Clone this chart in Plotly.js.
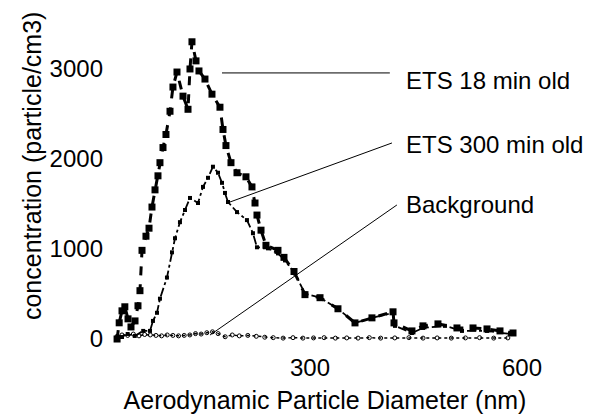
<!DOCTYPE html>
<html>
<head>
<meta charset="utf-8">
<script src="https://cdn.plot.ly/plotly-3.0.1.min.js"></script>
<style>html,body{margin:0;padding:0;background:#fff;}#chart{width:595px;height:417px;}</style>
</head>
<body>
<div id="chart"></div>
<script>
// Aerodynamic particle diameter (nm) and concentration (particle/cm3)
const ets18X = [27,30,34,38,42.5,46.7,52.4,56.6,59.4,62.3,67.9,72.2,76.4,80.7,84.9,87.7,92,96.2,101.9,106.1,111.8,120.3,127.4,130.2,133,138.7,142.9,151.4,161.3,172.6,176.9,181.1,188.2,196.7,209.4,217.9,222.2,225,230.7,237.7,254.7,263.2,277.4,292.9,314.2,339.6,363.7,387.7,417.5,418.9,444.3,459.9,481.1,508,530.7,550.5,568.9,587.3];
const ets18Y = [0,180,313,358,224,134,201,369,537,985,1142,1231,1466,1657,1813,1959,2127,2272,2530,2799,2966,2698,2552,3000,3302,3090,2978,2888,2720,2575,2328,2149,1959,1847,1802,1690,1511,1377,1209,1041,985,907,750,493,459,336,179,235,302,179,90,146,168,123,123,112,90,67];

const ets300X = [27,34,42,52,64,73.6,77.8,83.5,87.7,97.6,104.7,109,116,123.1,130.2,141.5,148.6,155.7,162.7,169.8,175.5,179.7,184,196.7,210.8,219.3,225,236.3,240.6,254.7,264.6,278.8,292.9,314.2,339.6,363.7,387.7,417.5,420.3,444.3,459.9,491,515.1,550.5,583];
const ets300Y = [0,22,56,34,90,90,201,291,448,683,963,1119,1298,1433,1567,1511,1690,1791,1914,1847,1735,1623,1522,1410,1321,1175,1019,1019,1007,951,873,728,504,459,336,179,235,291,146,67,123,146,90,90,56];

const bgX = [27,34,42,50,58,66,74,82,90,98,106,114,122,130,138,146,154,162,170,180,190,200,212,224,236,248,262,276,290,305,320,336,352,368,384,400,420,440,460,480,500,520,540,560,580];
const bgY = [30,45,40,55,35,50,45,40,35,45,40,35,40,45,60,55,70,80,60,25,45,35,40,30,20,15,10,15,10,12,15,10,12,10,15,10,12,15,10,12,10,12,15,10,12];

const xTicks = [300, 600];
const yTicks = [0, 1000, 2000, 3000];

const labels = ["ETS 18 min old", "ETS 300 min old", "Background"];
const yTitle = "concentration (particle/cm3)";

const FONT = "Liberation Sans, Arial, sans-serif";

const traces = [
  {x: ets18X, y: ets18Y, mode: "lines+markers", name: labels[0],
   line: {color: "#000", width: 3, dash: "dash"},
   marker: {symbol: "square", size: 7, color: "#000"}, cliponaxis: false},
  {x: ets300X, y: ets300Y, mode: "lines+markers", name: labels[1],
   line: {color: "#000", width: 1.8, dash: "dashdot"},
   marker: {symbol: "square", size: 4, color: "#000"}, cliponaxis: false},
  {x: bgX, y: bgY, mode: "lines+markers", name: labels[2],
   line: {color: "#000", width: 1.5, dash: "dot"},
   marker: {symbol: "circle-open", size: 4, color: "#000"}, cliponaxis: false}
];

const layout = {
  width: 595, height: 417,
  margin: {l: 110, r: 55, t: 20, b: 68},
  paper_bgcolor: "#fff", plot_bgcolor: "#fff",
  showlegend: false,
  font: {family: FONT, size: 24, color: "#000"},
  xaxis: {
    range: [17, 625.5], tickvals: xTicks, ticktext: xTicks.map(String),
    showgrid: false, zeroline: false, showline: false, ticks: "",
    tickfont: {family: FONT, size: 24, color: "#000"},
    ticklabelstandoff: 2,
    title: {text: "Aerodynamic Particle Diameter (nm)", font: {family: FONT, size: 25, color: "#000"}, standoff: 11}
  },
  yaxis: {
    range: [-111, 3544], tickvals: yTicks, ticktext: yTicks.map(String),
    showgrid: false, zeroline: false, showline: false, ticks: "",
    tickfont: {family: FONT, size: 24, color: "#000"},
    ticklabelstandoff: 6
  },
  shapes: [
    {type: "line", xref: "x", yref: "y", x0: 175.5, y0: 2956, x1: 413, y1: 2956, line: {color: "#000", width: 1}},
    {type: "line", xref: "x", yref: "y", x0: 186.8, y0: 1522, x1: 416, y1: 2178, line: {color: "#000", width: 1}},
    {type: "line", xref: "x", yref: "y", x0: 158.5, y0: 44, x1: 423, y1: 1489, line: {color: "#000", width: 1}}
  ],
  annotations: [
    {x: 433, y: 2867, xref: "x", yref: "y", text: labels[0], showarrow: false, xanchor: "left", yanchor: "middle", font: {family: FONT, size: 24, color: "#000"}},
    {x: 433, y: 2156, xref: "x", yref: "y", text: labels[1], showarrow: false, xanchor: "left", yanchor: "middle", font: {family: FONT, size: 24, color: "#000"}},
    {x: 433, y: 1489, xref: "x", yref: "y", text: labels[2], showarrow: false, xanchor: "left", yanchor: "middle", font: {family: FONT, size: 24, color: "#000"}},
    {x: -0.1814, y: 0.556, xref: "paper", yref: "paper", text: yTitle, textangle: -90, showarrow: false, xanchor: "center", yanchor: "middle", font: {family: FONT, size: 25, color: "#000"}}
  ]
};

Plotly.newPlot("chart", traces, layout, {displayModeBar: false, staticPlot: true});
</script>
</body>
</html>
